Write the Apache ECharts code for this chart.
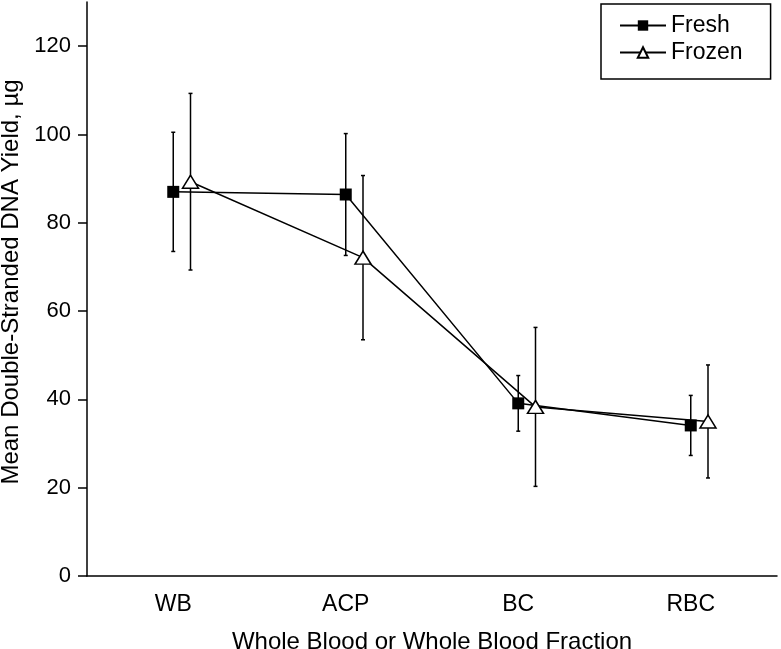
<!DOCTYPE html>
<html><head><meta charset="utf-8">
<script src="https://cdn.jsdelivr.net/npm/echarts@6/dist/echarts.min.js"></script>
<style>html,body{margin:0;padding:0;background:#fff}#c{width:781px;height:649px}</style>
</head><body><div id="c"></div>
<script>
var categories = ['WB', 'ACP', 'BC', 'RBC'];
var freshMean = [87.0, 86.4, 39.1, 34.1];
var freshSD = [13.5, 13.8, 6.3, 6.8];
var frozenMean = [89.3, 72.1, 38.3, 35.0];
var frozenSD = [20.0, 18.6, 18.0, 12.8];
var yTicks = [0, 20, 40, 60, 80, 100, 120];
var seriesNames = ['Fresh', 'Frozen'];
var frozenOffset = 0.1;

var FONT = 'Liberation Sans, Arial, Helvetica, sans-serif';
function pts(means, off) { return means.map(function (m, i) { return [i + 0.5 + off, m]; }); }
function errs(means, sds, off) { return means.map(function (m, i) { return [i + 0.5 + off, m - sds[i], m + sds[i]]; }); }
function errRender(params, api) {
  var lo = api.coord([api.value(0), api.value(1)]);
  var hi = api.coord([api.value(0), api.value(2)]);
  var c = 2;
  return { type: 'group', children: [
    { type: 'line', shape: { x1: lo[0], y1: lo[1], x2: hi[0], y2: hi[1] }, style: { stroke: '#000', lineWidth: 1.5 } },
    { type: 'line', shape: { x1: lo[0] - c, y1: lo[1], x2: lo[0] + c, y2: lo[1] }, style: { stroke: '#000', lineWidth: 1.5 } },
    { type: 'line', shape: { x1: hi[0] - c, y1: hi[1], x2: hi[0] + c, y2: hi[1] }, style: { stroke: '#000', lineWidth: 1.5 } }
  ] };
}
var chart = echarts.init(document.getElementById('c'));
chart.setOption({
  animation: false,
  backgroundColor: '#fff',
  textStyle: { fontFamily: FONT, color: '#000' },
  grid: { left: 87, right: 4, top: 2, bottom: 73, containLabel: false, outerBoundsMode: 'none' },
  legend: {
    left: 601, top: 4, orient: 'vertical',
    data: seriesNames,
    borderColor: '#000', borderWidth: 1.5,
    padding: [10, 28, 15, 18], itemGap: 4,
    itemWidth: 46, itemHeight: 13,
    textStyle: { fontFamily: FONT, fontSize: 23, color: '#000' }
  },
  xAxis: [
    { type: 'category', data: categories, boundaryGap: true,
      axisLine: { lineStyle: { color: '#000', width: 1.5 } },
      axisTick: { length: 6, lineStyle: { color: '#000', width: 1.5 } },
      axisLabel: { fontSize: 23, color: '#000', margin: 17, fontFamily: FONT },
      name: 'Whole Blood or Whole Blood Fraction', nameLocation: 'middle', nameGap: 54,
      nameTextStyle: { fontSize: 24, color: '#000', fontFamily: FONT } },
    { type: 'value', min: 0, max: 4, show: false }
  ],
  yAxis: {
    type: 'value', min: 0, max: 130,
    axisLine: { show: true, lineStyle: { color: '#000', width: 1.5 } },
    axisTick: { show: true, length: 9, customValues: yTicks, lineStyle: { color: '#000', width: 1.5 } },
    axisLabel: { fontSize: 22, color: '#000', margin: 16, customValues: yTicks, fontFamily: FONT },
    splitLine: { show: false },
    name: 'Mean Double-Stranded DNA Yield, µg', nameLocation: 'middle', nameGap: 58,
    nameTextStyle: { fontSize: 24, color: '#000', fontFamily: FONT, padding: [0, 0, 0, 14] }
  },
  series: [
    { type: 'custom', xAxisIndex: 1, renderItem: errRender, data: errs(freshMean, freshSD, 0), z: 1, silent: true },
    { type: 'custom', xAxisIndex: 1, renderItem: errRender, data: errs(frozenMean, frozenSD, frozenOffset), z: 1, silent: true },
    { name: seriesNames[0], type: 'line', xAxisIndex: 1, data: pts(freshMean, 0), z: 3,
      symbol: 'rect', symbolSize: 12,
      lineStyle: { color: '#000', width: 1.5 },
      itemStyle: { color: '#000', borderColor: '#000', borderWidth: 0 } },
    { name: seriesNames[1], type: 'line', xAxisIndex: 1, data: pts(frozenMean, frozenOffset), z: 4,
      symbol: 'triangle', symbolSize: [16, 13],
      lineStyle: { color: '#000', width: 1.5 },
      itemStyle: { color: '#fff', borderColor: '#000', borderWidth: 1.5 } }
  ]
});
</script></body></html>
